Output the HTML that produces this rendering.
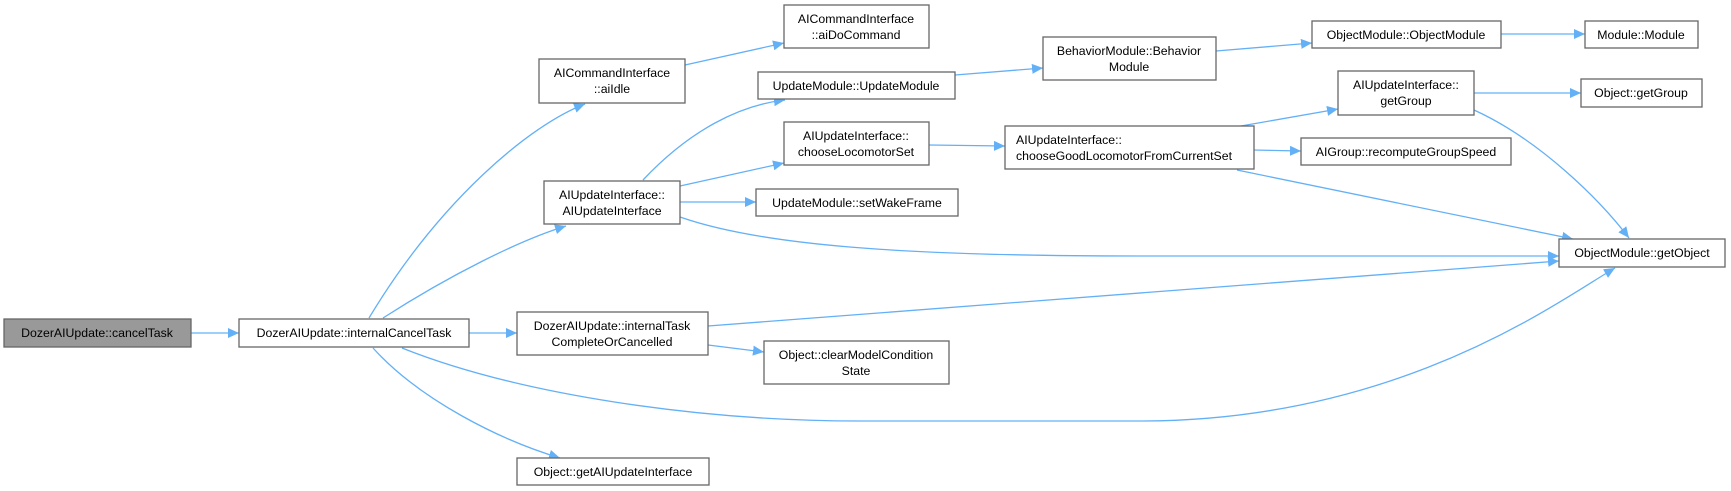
<!DOCTYPE html>
<html><head><meta charset="utf-8"><style>
html,body{margin:0;padding:0;background:#fff;}
svg{display:block;}
text{font-family:"Liberation Sans",Arial,sans-serif;font-size:12.3px;fill:#000;}
.n{fill:#fff;stroke:#666;stroke-width:1.3;}
.e{fill:none;stroke:#63b0f7;stroke-width:1.3;}
</style></head><body>
<svg width="1731" height="491" viewBox="0 0 1731 491" xmlns="http://www.w3.org/2000/svg">
<defs>
<marker id="a" markerWidth="12" markerHeight="10" refX="11" refY="5" orient="auto" markerUnits="userSpaceOnUse">
<path d="M0,0 L11,5 L0,10 Z" fill="#63b0f7"/>
</marker>
</defs>
<g marker-end="url(#a)">
<path class="e" d="M191,333 L239,333"/>
<path class="e" d="M369,318 C440,200 530,125 585,104"/>
<path class="e" d="M383,318 C450,275 520,240 566,226"/>
<path class="e" d="M469,333 L517,333"/>
<path class="e" d="M402,348 C520,395 700,421 860,421 L1140,421 C1400,421 1560,300 1615,268"/>
<path class="e" d="M373,348 C420,400 500,440 560,458"/>
<path class="e" d="M685,65 L784,43"/>
<path class="e" d="M643,180 C690,130 740,105 785,100"/>
<path class="e" d="M680,186 L784,163"/>
<path class="e" d="M680,202 L756,202"/>
<path class="e" d="M680,217 C760,245 900,256 1137,256 L1559,256"/>
<path class="e" d="M708,326 L1559,261"/>
<path class="e" d="M708,345 L764,352"/>
<path class="e" d="M955,75 L1043,68"/>
<path class="e" d="M1216,51 L1312,43"/>
<path class="e" d="M1501,34 L1585,34"/>
<path class="e" d="M929,145 L1005,146"/>
<path class="e" d="M1241,126 L1338,109"/>
<path class="e" d="M1253,150 L1301,151"/>
<path class="e" d="M1237,170 L1573,239"/>
<path class="e" d="M1474,93 L1581,93"/>
<path class="e" d="M1474,110 C1540,140 1600,200 1629,238"/>
</g>
<rect x="4" y="319" width="187" height="28" fill="#999" stroke="#666" stroke-width="1.3"/>
<text x="97" y="337" text-anchor="middle">DozerAIUpdate::cancelTask</text>
<rect class="n" x="239" y="319" width="230" height="28"/>
<text x="354" y="337" text-anchor="middle">DozerAIUpdate::internalCancelTask</text>
<rect class="n" x="539" y="59" width="146" height="44"/>
<text x="612" y="77" text-anchor="middle">AICommandInterface</text>
<text x="612" y="93" text-anchor="middle">::aiIdle</text>
<rect class="n" x="544" y="181" width="136" height="43"/>
<text x="612" y="199" text-anchor="middle">AIUpdateInterface::</text>
<text x="612" y="215" text-anchor="middle">AIUpdateInterface</text>
<rect class="n" x="517" y="312" width="191" height="43"/>
<text x="612" y="330" text-anchor="middle">DozerAIUpdate::internalTask</text>
<text x="612" y="346" text-anchor="middle">CompleteOrCancelled</text>
<rect class="n" x="517" y="458" width="192" height="27"/>
<text x="613" y="476" text-anchor="middle">Object::getAIUpdateInterface</text>
<rect class="n" x="784" y="5" width="145" height="43"/>
<text x="856" y="23" text-anchor="middle">AICommandInterface</text>
<text x="856" y="39" text-anchor="middle">::aiDoCommand</text>
<rect class="n" x="758" y="72" width="197" height="27"/>
<text x="856" y="90" text-anchor="middle">UpdateModule::UpdateModule</text>
<rect class="n" x="784" y="122" width="145" height="43"/>
<text x="856" y="140" text-anchor="middle">AIUpdateInterface::</text>
<text x="856" y="156" text-anchor="middle">chooseLocomotorSet</text>
<rect class="n" x="756" y="189" width="202" height="27"/>
<text x="857" y="207" text-anchor="middle">UpdateModule::setWakeFrame</text>
<rect class="n" x="764" y="341" width="185" height="43"/>
<text x="856" y="359" text-anchor="middle">Object::clearModelCondition</text>
<text x="856" y="375" text-anchor="middle">State</text>
<rect class="n" x="1043" y="37" width="173" height="43"/>
<text x="1129" y="55" text-anchor="middle">BehaviorModule::Behavior</text>
<text x="1129" y="71" text-anchor="middle">Module</text>
<rect class="n" x="1005" y="126" width="249" height="43"/>
<text x="1016" y="144">AIUpdateInterface::</text>
<text x="1016" y="160">chooseGoodLocomotorFromCurrentSet</text>
<rect class="n" x="1312" y="21" width="189" height="27"/>
<text x="1406" y="39" text-anchor="middle">ObjectModule::ObjectModule</text>
<rect class="n" x="1585" y="21" width="113" height="27"/>
<text x="1641" y="39" text-anchor="middle">Module::Module</text>
<rect class="n" x="1338" y="71" width="136" height="44"/>
<text x="1406" y="89" text-anchor="middle">AIUpdateInterface::</text>
<text x="1406" y="105" text-anchor="middle">getGroup</text>
<rect class="n" x="1581" y="79" width="121" height="28"/>
<text x="1641" y="97" text-anchor="middle">Object::getGroup</text>
<rect class="n" x="1301" y="138" width="210" height="27"/>
<text x="1406" y="156" text-anchor="middle">AIGroup::recomputeGroupSpeed</text>
<rect class="n" x="1559" y="239" width="166" height="28"/>
<text x="1642" y="257" text-anchor="middle">ObjectModule::getObject</text>
</svg>
</body></html>
